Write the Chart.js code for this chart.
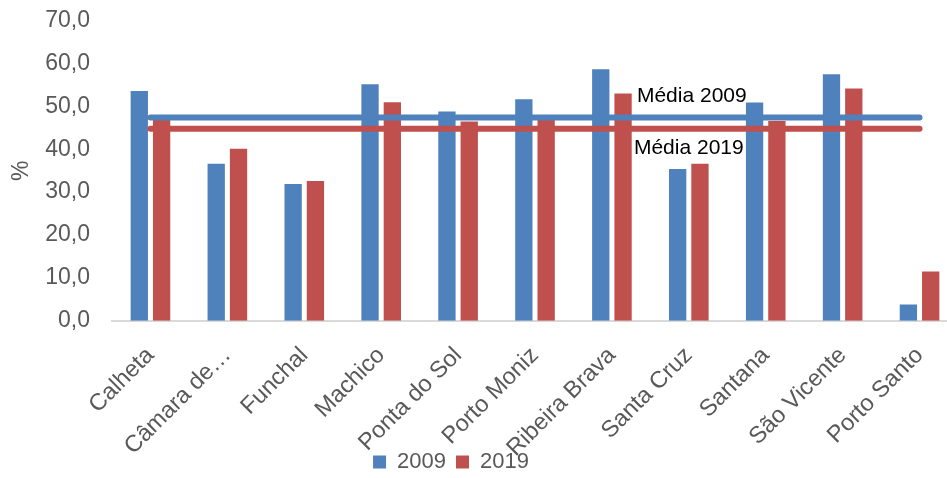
<!DOCTYPE html>
<html>
<head>
<meta charset="utf-8">
<script src="https://cdn.jsdelivr.net/npm/chart.js@4/dist/chart.umd.min.js"></script>
<style>
html,body{margin:0;padding:0;overflow:hidden;background:#fff;width:947px;height:478px}
#wrap{position:absolute;left:0;top:0;width:958px;height:478px}
</style>
</head>
<body>
<div id="wrap"><canvas id="c" width="958" height="478"></canvas></div>
<script>
// ---- data ----
const categories = ["Calheta","Câmara de Lobos","Funchal","Machico","Ponta do Sol","Porto Moniz","Ribeira Brava","Santa Cruz","Santana","São Vicente","Porto Santo"];
const tickLabels = ["Calheta","Câmara de…","Funchal","Machico","Ponta do Sol","Porto Moniz","Ribeira Brava","Santa Cruz","Santana","São Vicente","Porto Santo"];
const seriesNames = ["2009","2019"];
const values2009 = [53.6,36.6,31.9,55.2,48.8,51.7,58.7,35.4,50.9,57.5,3.8];
const values2019 = [46.9,40.1,32.6,51.0,46.5,46.9,53.0,36.6,46.6,54.2,11.5];
const meanNames = ["Média 2009","Média 2019"];
const mean2009 = 47.4;
const mean2019 = 44.8;
const meanLabelCategory = "Santa Cruz";
const yMin = 0, yMax = 70, yStep = 10;
const yTitle = "%";

// ---- style ----
const BLUE = "#4F81BD", RED = "#C0504D", GREY = "#595959";
const FAMILY = '"Liberation Sans", Arial, sans-serif';

const meanLine2009 = categories.map(() => mean2009);
const meanLine2019 = categories.map(() => mean2019);

const meanLabelsPlugin = {
  id: "meanLabels",
  afterDatasetsDraw(chart) {
    const ctx = chart.ctx;
    const idx = categories.indexOf(meanLabelCategory);
    const p0 = chart.getDatasetMeta(0).data[idx];
    const p1 = chart.getDatasetMeta(1).data[idx];
    ctx.save();
    ctx.font = "21px " + FAMILY;
    ctx.fillStyle = "#000";
    ctx.textAlign = "center";
    ctx.textBaseline = "middle";
    ctx.fillText(meanNames[0], p0.x + 3, p0.y - 21);
    ctx.fillText(meanNames[1], p1.x, p1.y + 20);
    ctx.restore();
  }
};

const layoutTweaks = {
  id: "layoutTweaks",
  afterLayout(chart) {
    const l = chart.legend;
    if (l) { l.left -= 28; l.right -= 28; l.top += 5; l.bottom += 5; }
    const x = chart.scales.x;
    x.bottom = chart.height; // let rotated labels extend below the axis box
  }
};

new Chart(document.getElementById("c"), {
  type: "bar",
  data: {
    labels: tickLabels,
    datasets: [
      { type: "line", label: meanNames[0], data: meanLine2009, borderColor: BLUE, backgroundColor: BLUE,
        borderWidth: 6, borderCapStyle: "round", pointRadius: 0, fill: false, order: 0 },
      { type: "line", label: meanNames[1], data: meanLine2019, borderColor: RED, backgroundColor: RED,
        borderWidth: 6, borderCapStyle: "round", pointRadius: 0, fill: false, order: 0 },
      { label: seriesNames[0], data: values2009, backgroundColor: BLUE, order: 1,
        categoryPercentage: 0.58, barPercentage: 0.776 },
      { label: seriesNames[1], data: values2019, backgroundColor: RED, order: 1,
        categoryPercentage: 0.58, barPercentage: 0.776 }
    ]
  },
  options: {
    responsive: false,
    animation: false,
    layout: { padding: { top: 20.7, left: 0, right: 0, bottom: 0 } },
    plugins: {
      tooltip: { enabled: false },
      legend: {
        position: "bottom",
        labels: {
          boxWidth: 13, boxHeight: 13, padding: 10,
          color: GREY, font: { size: 22, family: FAMILY },
          filter: (item) => item.datasetIndex >= 2
        }
      }
    },
    scales: {
      x: {
        grid: { display: false, drawTicks: false },
        border: { display: true, color: "#D9D9D9", width: 2 },
        ticks: { autoSkip: false, minRotation: 45, maxRotation: 45, padding: 21,
                 color: GREY, font: { size: 23.5, family: FAMILY } },
        afterFit: (s) => { s.height = 115.3; s.paddingLeft = 0; s.paddingRight = 0; }
      },
      y: {
        min: yMin, max: yMax,
        grid: { display: false, drawTicks: false },
        border: { display: false },
        ticks: { stepSize: yStep, padding: 22, color: GREY, font: { size: 23, family: FAMILY },
                 callback: (v) => v.toFixed(1).replace(".", ",") },
        title: { display: true, text: yTitle, color: GREY, font: { size: 23, family: FAMILY },
                 padding: { top: 8, bottom: 4 } },
        afterFit: (s) => { s.width = 112; s.paddingTop = 0; s.paddingBottom = 0; }
      }
    }
  },
  plugins: [meanLabelsPlugin, layoutTweaks]
});
</script>
</body>
</html>
